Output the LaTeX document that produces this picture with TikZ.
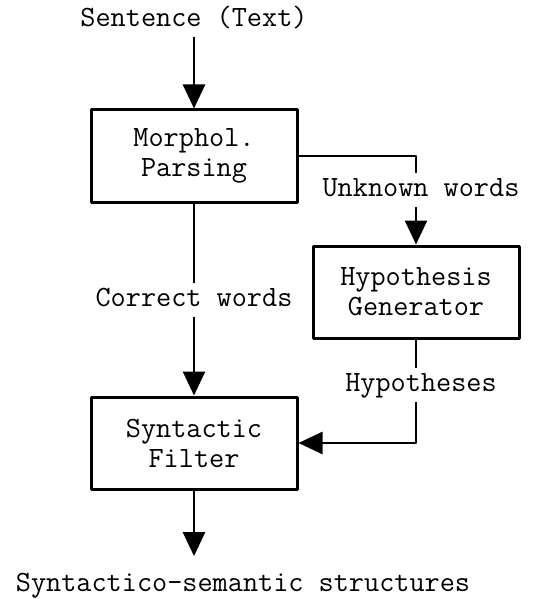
\documentclass[tikz,border=0pt]{standalone}
\usetikzlibrary{arrows.meta}
\newcommand{\diagfont}{\ttfamily\fontsize{14.7}{15}\selectfont}

\begin{document}
\begin{tikzpicture}[x=0.5pt, y=-0.5pt, line join=round, >={Triangle[width=11pt,length=12pt]}]

		\tikzset{block style/.style={draw, line width=1.5pt, minimum width=103pt, minimum height=46pt, align=center, font=\diagfont},
			tag style/.style={font=\diagfont, text height=9pt, text depth=2.5pt, inner sep=2.5pt},
			flow/.style={line width=1.3pt}}

		\useasboundingbox (0,0) rectangle (535,599);

		\node[tag style] (sentence) at (194,20) {Sentence (Text)};
		\node[block style] (morph) at (194,156) {Morphol.\\Parsing};
		\node[tag style] (unknown) at (421,190) {Unknown words};
		\node[block style] (hypgen) at (416,292) {Hypothesis\\Generator};
		\node[tag style] (correct) at (194,300) {Correct words};
		\node[tag style] (hypos) at (421,385) {Hypotheses};
		\node[block style] (filter) at (194,443) {Syntactic\\Filter};
		\node[tag style] (result) at (243,585) {Syntactico-semantic structures};

		\draw[flow,->] (sentence.south) -- (morph.north);
		\draw[flow] (morph.east) -| (unknown.north -| hypgen);
		\draw[flow,->] (unknown.south -| hypgen) -- (hypgen.north);
		\draw[flow] (morph.south) -- (correct.north);
		\draw[flow,->] (correct.south) -- (filter.north);
		\draw[flow] (hypgen.south) -- (hypos.north -| hypgen);
		\draw[flow,->] (hypos.south -| hypgen) |- (filter.east);
		\draw[flow,->,shorten >=6pt] (filter.south) -- (filter.south |- result.north);
		\end{tikzpicture}
\end{document}
